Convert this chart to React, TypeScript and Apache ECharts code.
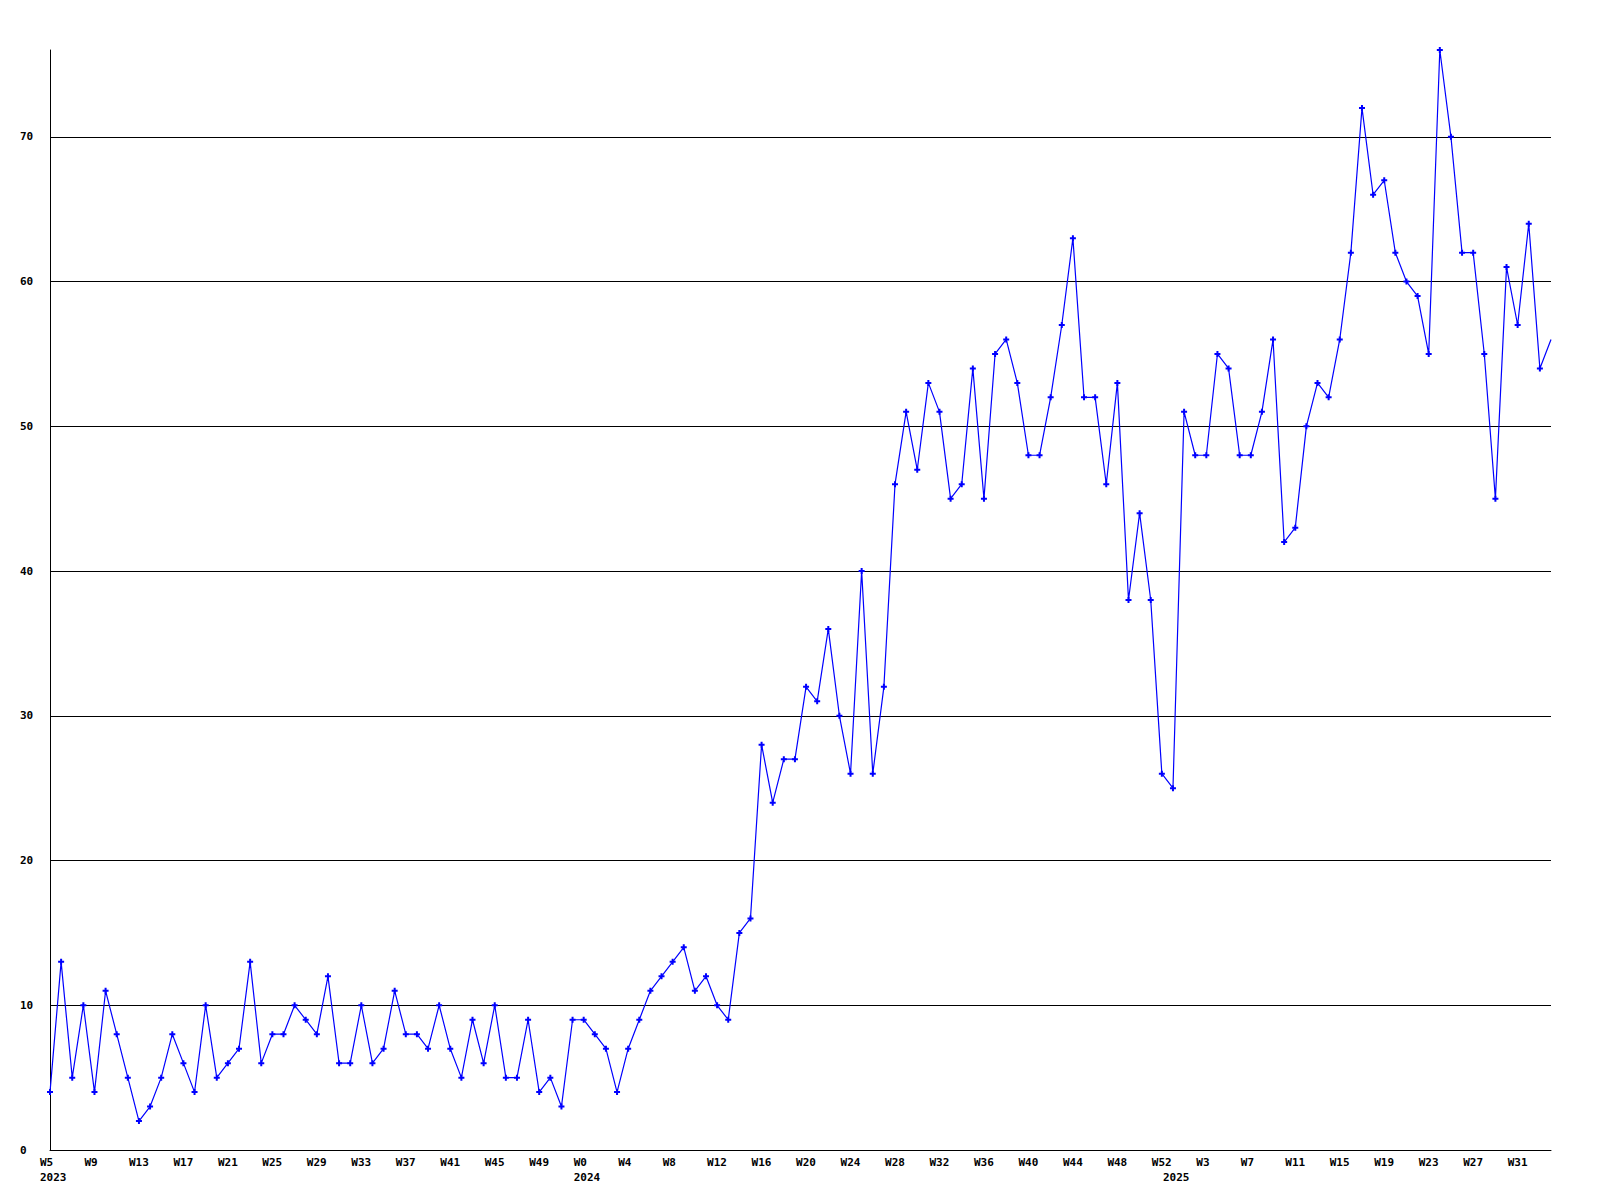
import React, { useEffect, useRef } from "react";
import * as echarts from "echarts";

// Weekly values, 2023 W5 .. 2025 W34
const values2023: number[] = [
  4, 13, 5, 10, 4, 11, 8, 5, 2, 3, 5, 8, 6, 4, 10, 5, 6, 7, 13, 6, 8, 8, 10, 9,
  8, 12, 6, 6, 10, 6, 7, 11, 8, 8, 7, 10, 7, 5, 9, 6, 10, 5, 5, 9, 4, 5, 3, 9,
];
const values2024: number[] = [
  9, 8, 7, 4, 7, 9, 11, 12, 13, 14, 11, 12, 10, 9, 15, 16, 28, 24, 27, 27, 32,
  31, 36, 30, 26, 40, 26, 32, 46, 51, 47, 53, 51, 45, 46, 54, 45, 55, 56, 53,
  48, 48, 52, 57, 63, 52, 52, 46, 53, 38, 44, 38, 26,
];
const values2025: number[] = [
  25, 51, 48, 48, 55, 54, 48, 48, 51, 56, 42, 43, 50, 53, 52, 56, 62, 72, 66,
  67, 62, 60, 59, 55, 76, 70, 62, 62, 55, 45, 61, 57, 64, 54, 56,
];

// Week ranges per year (year, first week, last week)
const yearWeeks: [number, number, number][] = [
  [2023, 5, 52],
  [2024, 0, 52],
  [2025, 0, 34],
];

const yAxisMax = 76;
const yAxisInterval = 10;

const categories: string[] = [];
const yearStartIdx: number[] = [];
const yearOfIdx: string[] = [];
yearWeeks.forEach(([y, a, b]) => {
  yearStartIdx.push(categories.length);
  for (let w = a; w <= b; w++) {
    categories.push("W" + w);
    yearOfIdx.push(String(y));
  }
});

const allValues: number[] = [...values2023, ...values2024, ...values2025];

const FONT = "DejaVu Sans Mono";

export default function App() {
  const ref = useRef<HTMLDivElement>(null);
  useEffect(() => {
    document.body.style.margin = "0";
    if (!ref.current) return;
    const chart = echarts.init(ref.current, null, { renderer: "svg" });
    const labelRich = {
      a: {
        width: 20,
        align: "left",
        fontFamily: FONT,
        fontSize: 11,
        fontWeight: "bold",
        color: "#000",
      },
    };
    const seriesData = allValues.map((v, i) =>
      i === allValues.length - 1 ? { value: v, symbol: "none" } : v
    );
    chart.setOption({
      animation: false,
      backgroundColor: "#ffffff",
      grid: { left: 50, right: 49, top: 50, bottom: 50, containLabel: false },
      xAxis: [
        {
          type: "category",
          data: categories,
          boundaryGap: false,
          position: "bottom",
          axisLine: { show: true, lineStyle: { color: "#000", width: 1 } },
          axisTick: { show: false },
          splitLine: { show: false },
          axisLabel: {
            interval: 3,
            margin: 7,
            formatter: (v: string) => `{a|${v}}`,
            rich: labelRich,
          },
        },
        {
          type: "category",
          data: categories,
          boundaryGap: false,
          position: "bottom",
          axisLine: { show: false },
          axisTick: { show: false },
          splitLine: { show: false },
          axisLabel: {
            interval: (idx: number) => yearStartIdx.includes(idx),
            margin: 22,
            formatter: (_v: string, idx: number) => `{a|${yearOfIdx[idx]}}`,
            rich: labelRich,
          },
        },
      ],
      yAxis: {
        type: "value",
        min: 0,
        max: yAxisMax,
        interval: yAxisInterval,
        axisLine: { show: true, lineStyle: { color: "#000", width: 1 } },
        axisTick: { show: false },
        splitLine: {
          show: true,
          showMaxLine: false,
          showMinLine: false,
          lineStyle: { color: "#000", width: 1 },
        },
        axisLabel: {
          showMaxLabel: false,
          align: "left",
          margin: 30,
          fontFamily: FONT,
          fontSize: 11,
          fontWeight: "bold",
          color: "#000",
        },
      },
      series: [
        {
          type: "line",
          xAxisIndex: 0,
          data: seriesData,
          symbol: "path://M1,0 L2,0 L2,1 L3,1 L3,2 L2,2 L2,3 L1,3 L1,2 L0,2 L0,1 L1,1 Z",
          symbolSize: 6,
          showAllSymbol: true,
          itemStyle: { color: "#0000ff", borderWidth: 0 },
          lineStyle: { color: "#0000ff", width: 1.2 },
          clip: true,
        },
      ],
    });
    return () => chart.dispose();
  }, []);
  return (
    <div
      ref={ref}
      style={{ position: "absolute", left: 0, top: 0, width: 1600, height: 1200 }}
    />
  );
}
